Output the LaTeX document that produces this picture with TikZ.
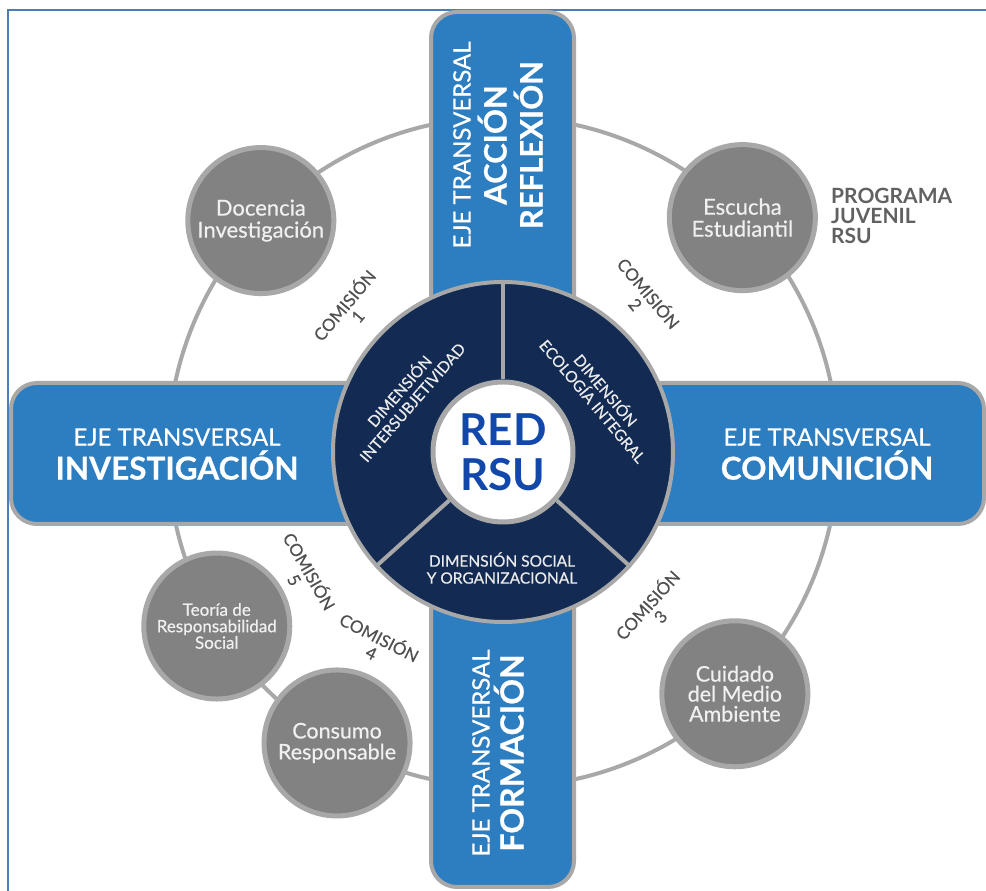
\documentclass[tikz,border=0pt]{standalone}
\usepackage{fontspec}
\setmainfont{Lato}
\newfontfamily\latomid[FakeBold=0.5]{Lato}
\usepackage{xcolor}
\definecolor{rsuBarBlue}{RGB}{45,125,193}
\definecolor{rsuEdgeGray}{RGB}{168,168,168}
\definecolor{rsuNavy}{RGB}{19,43,82}
\definecolor{rsuTitleBlue}{RGB}{18,72,170}
\definecolor{rsuCircleGray}{RGB}{130,130,130}
\definecolor{rsuLabelGray}{RGB}{80,80,80}
\definecolor{rsuFrameBlue}{RGB}{74,126,187}

\begin{document}
\begin{tikzpicture}[x=1pt, y=1pt,
  ejebar/.style={draw=rsuEdgeGray, line width=4pt, fill=rsuBarBlue, rounded corners=26pt},
  bartext/.style={text=white, align=center, inner sep=0pt},
  tema/.style={circle, draw=rsuEdgeGray, line width=5pt, fill=rsuCircleGray, minimum size=146pt, inner sep=0pt, text=white!94!black, align=center, font=\latomid\fontsize{22}{22}\selectfont},
  dimtext/.style={text=white!92!black, align=center, inner sep=0pt, font=\latomid\fontsize{15.5}{17}\selectfont},
  comlabel/.style={text=rsuLabelGray, align=center, inner sep=0pt, font=\latomid\fontsize{17}{17}\selectfont}]
  \useasboundingbox (0,0) rectangle (986,891);
  \draw[rsuFrameBlue, line width=2.5pt] (986,881) -- (8,881) -- (8,0);
  \coordinate (c) at (503,439);
  \draw[rsuEdgeGray, line width=4pt] (c) circle (335);
  \node[tema] (docencia) at ([shift={(136.3:335)}]c) {Docencia\\Investigación};
  \node[tema] (escucha) at ([shift={(44.4:335)}]c) {Escucha\\Estudiantil};
  \node[tema, font=\latomid\fontsize{21.5}{20}\selectfont] (cuidado) at ([shift={(-46.2:335)}]c) {Cuidado\\del Medio\\Ambiente};
  \node[tema, font=\latomid\fontsize{17}{16.5}\selectfont] (teoria) at ([shift={(211.3:335)}]c) {Teoría de\\Responsabilidad\\Social};
  \node[tema, font=\latomid\fontsize{21.5}{21}\selectfont] (consumo) at ([shift={(240.3:335)}]c) {Consumo\\Responsable};
  \draw[ejebar] (11,367) rectangle (984,508);
  \draw[ejebar] (431,4) rectangle (574,879);
  \node[circle, draw=rsuEdgeGray, line width=4pt, fill=rsuNavy, minimum size=340pt, inner sep=0pt] (disco) at (c) {};
  \node[circle, draw=rsuEdgeGray, line width=5pt, fill=white, minimum size=140pt, inner sep=0pt, text=rsuTitleBlue, align=center, font=\bfseries\fontsize{44}{45}\selectfont] (red) at (c) {RED\\RSU};
  \foreach \a in {90,222,318}
    \draw[rsuEdgeGray, line width=4pt] (red.\a) -- (disco.\a);
  \node[dimtext, rotate=49] (dimInter) at (405,495) {DIMENSIÓN\\INTERSUBJETIVIDAD};
  \node[dimtext, rotate=-50] (dimEco) at (600,496) {DIMENSIÓN\\ECOLOGÍA INTEGRAL};
  \node[dimtext] (dimSocial) at (502,323) {DIMENSIÓN SOCIAL\\Y ORGANIZACIONAL};
  \node[bartext, font=\latomid\fontsize{24}{34}\selectfont] (ejeInvest) at (177,437) {EJE TRANSVERSAL\\{\bfseries\fontsize{31.5}{34}\selectfont INVESTIGACIÓN}};
  \node[bartext, font=\latomid\fontsize{24}{34}\selectfont] (ejeComun) at (827,437) {EJE TRANSVERSAL\\{\bfseries\fontsize{31.5}{34}\selectfont COMUNICIÓN}};
  \node[bartext, rotate=90, font=\latomid\fontsize{24}{36}\selectfont] (ejeAccion) at (498,746) {EJE TRANSVERSAL\\{\bfseries\fontsize{31}{36}\selectfont ACCIÓN}\\{\bfseries\fontsize{31}{36}\selectfont REFLEXIÓN}};
  \node[bartext, rotate=90, font=\latomid\fontsize{24}{34}\selectfont] (ejeForm) at (498,138) {EJE TRANSVERSAL\\{\bfseries\fontsize{32}{34}\selectfont FORMACIÓN}};
  \node[anchor=north west, align=left, inner sep=0pt, text=rsuLabelGray!90!white, font=\bfseries\fontsize{21}{20}\selectfont] (programa) at (831,703) {PROGRAMA\\JUVENIL\\RSU};
  \node[comlabel, rotate=50] (com1) at (350,581) {COMISIÓN\\1};
  \node[comlabel, rotate=-50] (com2) at (643,593) {COMISIÓN\\2};
  \node[comlabel, rotate=48] (com3) at (653,281) {COMISIÓN\\3};
  \node[comlabel, rotate=-27] (com4) at (376,247) {COMISIÓN\\4};
  \node[comlabel, rotate=-60] (com5) at (303,316) {COMISIÓN\\5};
\end{tikzpicture}
\end{document}
